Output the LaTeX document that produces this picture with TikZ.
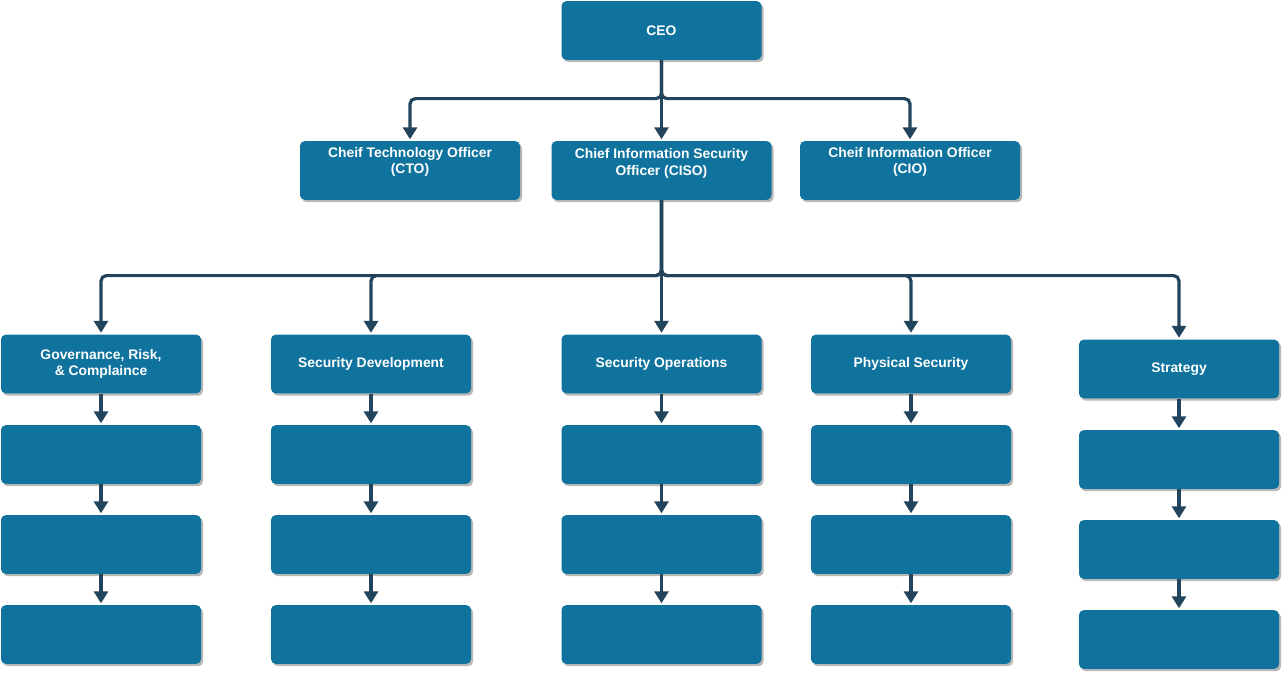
\documentclass[tikz,border=0pt]{standalone}
\usepackage{fontspec}
\setmainfont{Liberation Sans}
\usetikzlibrary{arrows.meta,shadows}
\definecolor{boxblue}{HTML}{10739E}
\definecolor{linenavy}{HTML}{23445D}
\begin{document}
\begin{tikzpicture}[x=0.75pt,y=-0.75pt,
 box/.style={rectangle, rounded corners=3.5pt, fill=boxblue, minimum width=150pt, minimum height=44pt, inner sep=0pt,
   drop shadow={shadow xshift=1.5pt, shadow yshift=-1.8pt, fill=black, opacity=0.28},
   text=white, font=\bfseries\fontsize{10.4}{12.4}\selectfont, align=center},
 widebox/.style={box, minimum width=165pt},
 txt/.style={text=white, font=\bfseries\fontsize{10.4}{12.4}\selectfont, align=center, inner sep=0pt},
 conn/.style={draw=linenavy, line width=2.4pt, rounded corners=4pt, -{Triangle[length=9pt,width=10.5pt]}, shorten >=1.2pt}
]
\useasboundingbox (0,0) rectangle (1282,675);

% top
\node[box] (ceo) at (661.5,30.5) {CEO};
\node[widebox] (cto) at (410,170.5) {};
\node[txt] (ctoT) at (410,162) {Cheif Technology Officer\\(CTO)};
\node[widebox] (ciso) at (661.5,170.5) {};
\node[txt] (cisoT) at (661.5,163.5) {Chief Information Security\\Officer (CISO)};
\node[widebox] (cio) at (910,170.5) {};
\node[txt] (cioT) at (910,162) {Cheif Information Officer\\(CIO)};

% departments
\node[box] (grc) at (101,364) {Governance, Risk,\\\& Complaince};
\node[box] (sdev) at (371,364) {Security Development};
\node[box] (sops) at (661.5,364) {Security Operations};
\node[box] (phys) at (911,364) {Physical Security};
\node[box] (strat) at (1179,369) {Strategy};

\foreach \n/\x in {grc/101, sdev/371, sops/661.5, phys/911}{
  \node[box] (\n1) at (\x,454.5) {};
  \node[box] (\n2) at (\x,544.5) {};
  \node[box] (\n3) at (\x,634.5) {};
}
\node[box] (strat1) at (1179,459.5) {};
\node[box] (strat2) at (1179,549.5) {};
\node[box] (strat3) at (1179,639.5) {};

% connectors
\draw[conn] (ceo.south) -- ++(0,38.5) -| (cto.north);
\draw[conn] (ceo.south) -- ++(0,38.5) -| (cio.north);
\draw[conn] (ceo.south) -- (ciso.north);

\foreach \n in {grc,sdev,phys,strat}{
  \draw[conn] (ciso.south) -- ++(0,75.5) -| (\n.north);
}
\draw[conn] (ciso.south) -- (sops.north);

\foreach \n in {grc,sdev,sops,phys,strat}{
  \draw[conn] (\n.south) -- (\n1.north);
  \draw[conn] (\n1.south) -- (\n2.north);
  \draw[conn] (\n2.south) -- (\n3.north);
}
\end{tikzpicture}
\end{document}
